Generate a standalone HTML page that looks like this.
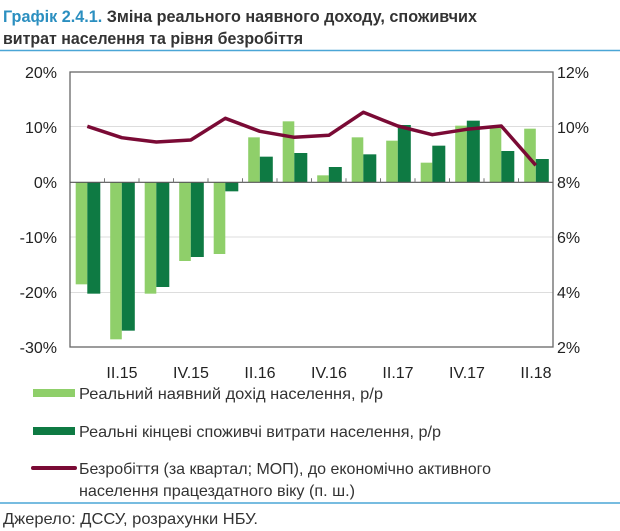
<!DOCTYPE html>
<html><head><meta charset="utf-8"><style>
html,body{margin:0;padding:0;background:#fff;}
svg{display:block;font-family:"Liberation Sans",sans-serif;}
</style></head><body>
<svg width="620" height="531" viewBox="0 0 620 531" xmlns="http://www.w3.org/2000/svg">
<text x="3" y="22" font-size="17" font-weight="bold" textLength="474" lengthAdjust="spacingAndGlyphs"><tspan fill="#2b8fc0">Графік 2.4.1.</tspan><tspan fill="#333"> Зміна реального наявного доходу, споживчих</tspan></text>
<text x="3" y="44" font-size="17" font-weight="bold" fill="#333" textLength="300" lengthAdjust="spacingAndGlyphs">витрат населення та рівня безробіття</text>
<line x1="0" y1="50.5" x2="620" y2="50.5" stroke="#4aa6d6" stroke-width="1.5"/>
<g stroke="#ddd" stroke-width="1">
<line x1="70" y1="126.5" x2="553" y2="126.5"/>
<line x1="70" y1="237" x2="553" y2="237"/>
<line x1="70" y1="292.5" x2="553" y2="292.5"/>
</g>
<g id="bars"></g>
<g font-size="16" fill="#222" text-anchor="end">
<text x="57" y="78">20%</text><text x="57" y="133">10%</text><text x="57" y="188">0%</text>
<text x="57" y="243">-10%</text><text x="57" y="298">-20%</text><text x="57" y="353">-30%</text>
</g>
<g font-size="16" fill="#222">
<text x="557" y="78">12%</text><text x="557" y="133">10%</text><text x="557" y="188">8%</text>
<text x="557" y="243">6%</text><text x="557" y="298">4%</text><text x="557" y="353">2%</text>
</g>
<g font-size="16" fill="#222" text-anchor="middle">
<text x="122" y="378">II.15</text><text x="191" y="378">IV.15</text><text x="260" y="378">II.16</text>
<text x="329" y="378">IV.16</text><text x="398" y="378">II.17</text><text x="467" y="378">IV.17</text><text x="536" y="378">II.18</text>
</g>
<rect x="33" y="389" width="42" height="8" fill="#8fcf6a"/>
<rect x="33" y="427" width="42" height="8" fill="#0e7a43"/>
<line x1="33" y1="468" x2="75" y2="468" stroke="#7a0a35" stroke-width="4" stroke-linecap="round"/>
<g font-size="16" fill="#333">
<text x="79" y="399" textLength="304" lengthAdjust="spacingAndGlyphs">Реальний наявний дохід населення,  р/р</text>
<text x="79" y="437" textLength="362" lengthAdjust="spacingAndGlyphs">Реальні кінцеві споживчі витрати населення, р/р</text>
<text x="79" y="474" textLength="412" lengthAdjust="spacingAndGlyphs">Безробіття (за квартал; МОП), до економічно активного</text>
<text x="79" y="496" textLength="276" lengthAdjust="spacingAndGlyphs">населення працездатного віку (п. ш.)</text>
</g>
<line x1="0" y1="503" x2="620" y2="503" stroke="#4aa6d6" stroke-width="1.5"/>
<text x="3" y="524" font-size="16" fill="#333" textLength="255" lengthAdjust="spacingAndGlyphs">Джерело: ДССУ, розрахунки НБУ.</text>
<g id="frame"></g>
</svg>
<script>
var ns="http://www.w3.org/2000/svg";
function z(v){return 60+v/3;}
var L=[673,838,701,603,582,232,184,346,232,242,308,197,197,206];
var D=[701,812,681,591,394,290,279,321,283,195,257,182,273,297];
var U=[199,233,246,240,175,214,232,226,157,198,224,208,198,316];
var svg=document.querySelector('svg'),g=document.getElementById('bars');
var y0=182.3,pts=[];
function r(x,y,w,h,c){var e=document.createElementNS(ns,'rect');e.setAttribute('x',x);e.setAttribute('y',y);e.setAttribute('width',w);e.setAttribute('height',h);e.setAttribute('fill',c);g.appendChild(e);}
for(var i=0;i<14;i++){var s=70+34.5*i;
var a=z(L[i]),b=z(D[i]);
r(s+5.7,Math.min(a,y0),11.6,Math.abs(a-y0),'#8fcf6a');
r(s+17.3,Math.min(b,y0),13,Math.abs(b-y0),'#0e7a43');
pts.push((s+17.3).toFixed(1)+','+z(U[i]).toFixed(1));}
var f=document.getElementById('frame');
var rc=document.createElementNS(ns,'rect');rc.setAttribute('x',70);rc.setAttribute('y',72);rc.setAttribute('width',483);rc.setAttribute('height',275);rc.setAttribute('fill','none');rc.setAttribute('stroke','#666');rc.setAttribute('stroke-width','1.3');f.appendChild(rc);
var zl=document.createElementNS(ns,'line');zl.setAttribute('x1',70);zl.setAttribute('x2',553);zl.setAttribute('y1',y0);zl.setAttribute('y2',y0);zl.setAttribute('stroke','#555');zl.setAttribute('stroke-width','1.2');f.appendChild(zl);
for(var i=1;i<14;i++){var x=70+34.5*i;var t=document.createElementNS(ns,'line');t.setAttribute('x1',x);t.setAttribute('x2',x);t.setAttribute('y1',y0-4);t.setAttribute('y2',y0);t.setAttribute('stroke','#777');f.appendChild(t);}
var pl=document.createElementNS(ns,'polyline');pl.setAttribute('points',pts.join(' '));pl.setAttribute('fill','none');pl.setAttribute('stroke','#7a0a35');pl.setAttribute('stroke-width','3.5');pl.setAttribute('stroke-linejoin','round');f.appendChild(pl);
</script>
</body></html>
